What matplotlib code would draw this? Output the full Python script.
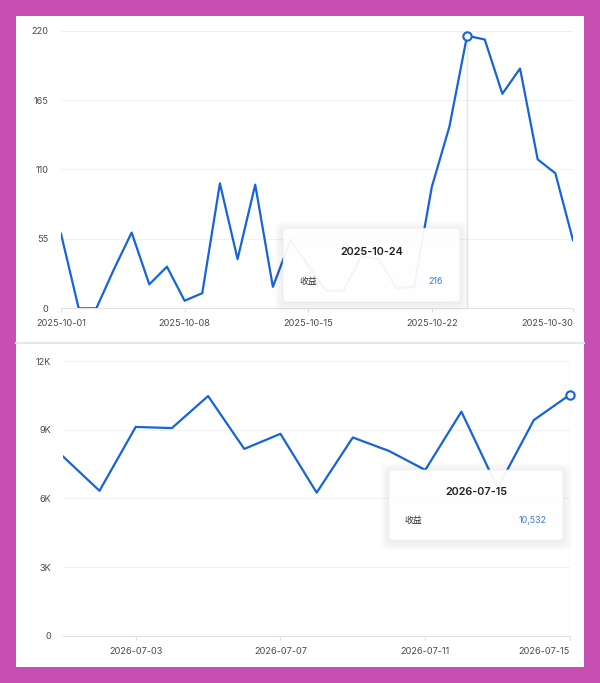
import numpy as np
import pandas as pd
import matplotlib
matplotlib.use('Agg')
import matplotlib.pyplot as plt
import matplotlib.ticker as ticker
from matplotlib.patches import Rectangle, FancyBboxPatch
from matplotlib.lines import Line2D

plt.rcParams['font.family'] = ['Inter', 'Noto Sans CJK SC', 'DejaVu Sans']

# top chart: 2025-10-01 .. 2025-10-30
oct_dates = pd.date_range('2025-10-01', '2025-10-30').strftime('%Y-%m-%d').tolist()
oct_income = [59, 0, 0, 31, 60, 19, 33, 6, 12, 99, 39, 98, 17, 54, 34,
              14, 14, 41, 39, 16, 17, 96, 144, 216, 213, 170, 190, 118, 107, 54]
oct_ticks = ['2025-10-01', '2025-10-08', '2025-10-15', '2025-10-22', '2025-10-30']
oct_yticks = [0, 55, 110, 165, 220]
oct_focus = '2025-10-24'

# bottom chart: 2026-07-01 .. 2026-07-15
jul_dates = pd.date_range('2026-07-01', '2026-07-15').strftime('%Y-%m-%d').tolist()
jul_income = [7820, 6330, 9120, 9070, 10470, 8160, 8820, 6250, 8660, 8070,
              7240, 9790, 6450, 9420, 10532]
jul_ticks = ['2026-07-03', '2026-07-07', '2026-07-11', '2026-07-15']
jul_yticks = [0, 3000, 6000, 9000, 12000]
jul_focus = '2026-07-15'

series_name = '收益'

BLUE = '#1763d8'
LABEL = '#4a4a4a'
GRID = '#f1f1f1'
AXIS = '#e2e2e2'


def fmt_k(v, pos):
    return '0' if v == 0 else '%dK' % (v / 1000)


def draw_chart(ax, dates, values, ticks, yticks, focus, box, yfmt=None):
    x = np.arange(len(dates))
    ax.set_facecolor('none')
    ax.plot(x, values, color=BLUE, lw=1.6, zorder=3)
    k = dates.index(focus)
    ax.axvline(k, color='#e6e6e6', lw=1, zorder=1)
    ax.plot([k], [values[k]], 'o', ms=6, mfc='white', mec=BLUE, mew=1.5,
            zorder=4, clip_on=False)

    ax.set_xlim(0, len(dates) - 1)
    ax.set_ylim(yticks[0], yticks[-1])
    ax.set_yticks(yticks)
    if yfmt:
        ax.yaxis.set_major_formatter(ticker.FuncFormatter(yfmt))
    ax.set_xticks([dates.index(t) for t in ticks])
    ax.set_xticklabels(ticks)
    ax.xaxis.get_ticklabels()[-1].set_horizontalalignment('right')

    for s in ['top', 'right', 'left']:
        ax.spines[s].set_visible(False)
    ax.spines['bottom'].set_color(AXIS)
    ax.spines['bottom'].set_zorder(2)
    ax.yaxis.grid(True, color=GRID, lw=0.8, zorder=0)
    ax.set_axisbelow(True)
    ax.tick_params(axis='y', length=0, pad=9, labelsize=6.6, labelcolor=LABEL)
    ax.tick_params(axis='x', length=3, color=AXIS, pad=5, labelsize=6.6, labelcolor=LABEL)

    # tooltip with a soft shadow
    x0, y0, x1, y1 = box
    for i in range(6):
        p = 0.002 + 0.003 * i
        ax.add_patch(FancyBboxPatch((x0 - p, y0 - p * 1.8 - 0.006), x1 - x0 + 2 * p,
                                    y1 - y0 + 2 * p * 1.8,
                                    boxstyle='round,pad=0,rounding_size=0.015',
                                    transform=ax.transAxes, fc='#000000',
                                    ec='none', alpha=0.012, zorder=5, clip_on=False))
    ax.add_patch(FancyBboxPatch((x0, y0), x1 - x0, y1 - y0,
                                boxstyle='round,pad=0,rounding_size=0.01',
                                transform=ax.transAxes, fc='white', ec='#f3f3f3',
                                lw=0.6, alpha=0.95, zorder=6, clip_on=False))
    cx = (x0 + x1) / 2
    h = y1 - y0
    ax.text(cx, y1 - h * 0.32, focus, transform=ax.transAxes, ha='center',
            va='center', fontsize=7.8, color='#1f1f1f', fontweight='semibold', zorder=7)
    ax.text(x0 + (x1 - x0) * 0.09, y0 + h * 0.28, series_name, transform=ax.transAxes,
            ha='left', va='center', fontsize=6.4, color='#333333', zorder=7)
    ax.text(x1 - (x1 - x0) * 0.095, y0 + h * 0.28, '{:,}'.format(values[k]),
            transform=ax.transAxes, ha='right', va='center', fontsize=6.4,
            color='#3b78d8', zorder=7)


fig = plt.figure(figsize=(6, 6.83), dpi=100)
fig.patch.set_facecolor('#c64fb1')
fig.add_artist(Rectangle((16 / 600, 16 / 683), 568 / 600, 651 / 683,
                         transform=fig.transFigure, fc='white', ec='none', zorder=0))
fig.add_artist(Line2D([16 / 600, 584 / 600], [1 - 342.5 / 683, 1 - 342.5 / 683],
                      transform=fig.transFigure, color='#e6e6e6', lw=1.5, zorder=1))

ax1 = fig.add_axes([0.1017, 0.5486, 0.8533, 0.4065])
draw_chart(ax1, oct_dates, oct_income, oct_ticks, oct_yticks, oct_focus,
           (0.434, 0.024, 0.779, 0.288))

ax2 = fig.add_axes([0.1055, 0.0693, 0.8445, 0.4021])
draw_chart(ax2, jul_dates, jul_income, jul_ticks, jul_yticks, jul_focus,
           (0.643, 0.348, 0.986, 0.603), yfmt=fmt_k)

fig.savefig('out.png', dpi=100, facecolor=fig.get_facecolor())
